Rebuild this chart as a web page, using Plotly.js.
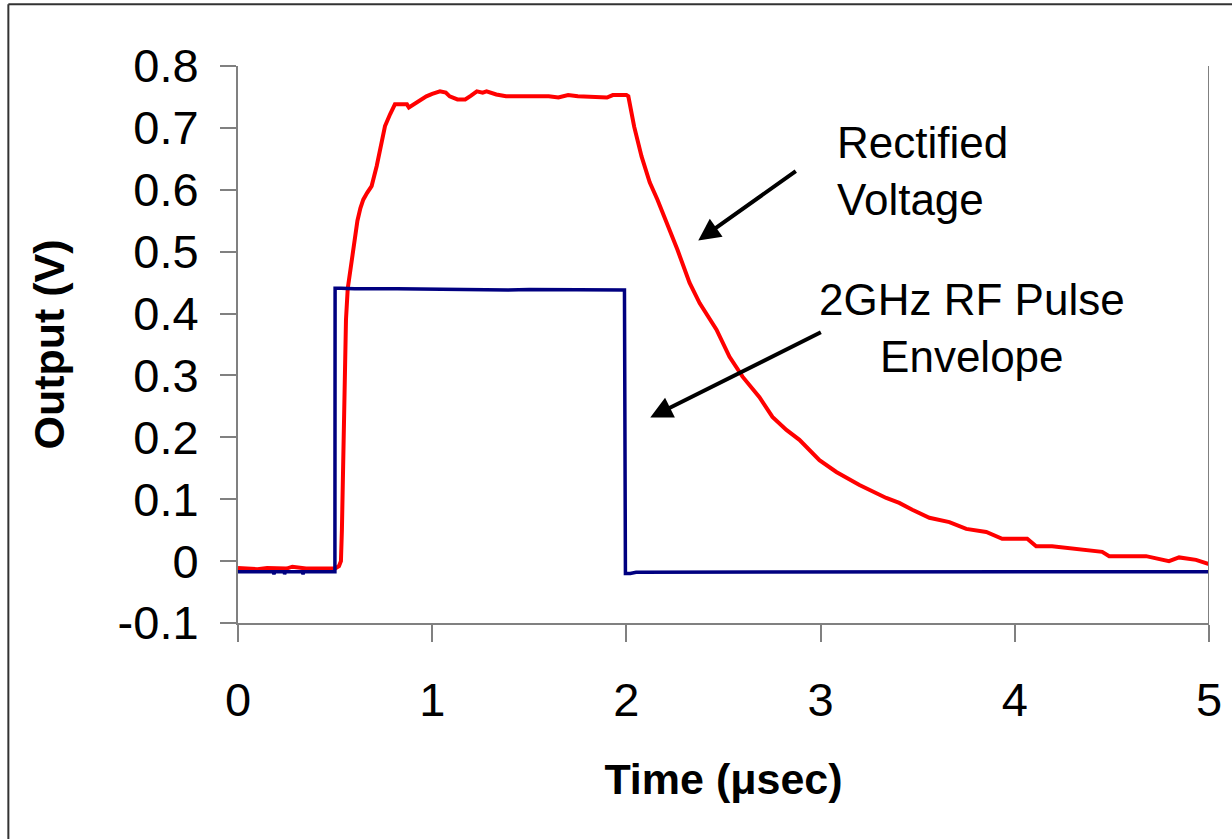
<!DOCTYPE html>
<html>
<head>
<meta charset="utf-8">
<script src="https://cdn.plot.ly/plotly-3.0.1.min.js"></script>
<style>
html,body{margin:0;padding:0;background:#fff;}
#chart{width:1232px;height:839px;}
</style>
</head>
<body>
<div id="chart"></div>
<script>
// Rectified voltage (red)
var redTime = [0, 0.05, 0.1, 0.15, 0.2, 0.25, 0.28, 0.3, 0.35, 0.4, 0.45, 0.5, 0.52, 0.53, 0.535, 0.54, 0.545, 0.55, 0.556, 0.565, 0.586, 0.6, 0.615, 0.63, 0.645, 0.665, 0.688, 0.714, 0.735, 0.757, 0.783, 0.808, 0.85, 0.87, 0.88, 0.9, 0.93, 0.97, 1.0, 1.04, 1.07, 1.09, 1.13, 1.17, 1.2, 1.23, 1.26, 1.28, 1.33, 1.38, 1.5, 1.6, 1.65, 1.7, 1.75, 1.85, 1.9, 1.93, 2.0, 2.01, 2.04, 2.078, 2.12, 2.16, 2.222, 2.263, 2.325, 2.377, 2.464, 2.531, 2.598, 2.685, 2.752, 2.824, 2.891, 2.994, 3.081, 3.2, 3.338, 3.405, 3.472, 3.56, 3.663, 3.75, 3.853, 3.935, 4.064, 4.11, 4.192, 4.295, 4.45, 4.486, 4.676, 4.794, 4.846, 4.933, 5.0];
var redVolt = [-0.011, -0.012, -0.013, -0.011, -0.011, -0.012, -0.009, -0.01, -0.012, -0.012, -0.012, -0.012, -0.008, 0.0, 0.05, 0.15, 0.25, 0.33, 0.39, 0.44, 0.49, 0.52, 0.55, 0.57, 0.584, 0.595, 0.606, 0.638, 0.67, 0.703, 0.722, 0.738, 0.738, 0.738, 0.733, 0.737, 0.742, 0.751, 0.755, 0.759, 0.757, 0.751, 0.746, 0.746, 0.752, 0.759, 0.757, 0.759, 0.754, 0.751, 0.751, 0.751, 0.749, 0.753, 0.751, 0.749, 0.749, 0.753, 0.753, 0.751, 0.702, 0.654, 0.612, 0.584, 0.536, 0.503, 0.45, 0.417, 0.374, 0.33, 0.298, 0.265, 0.233, 0.212, 0.196, 0.163, 0.144, 0.123, 0.102, 0.094, 0.083, 0.07, 0.063, 0.052, 0.047, 0.036, 0.036, 0.024, 0.024, 0.021, 0.015, 0.008, 0.008, 0.0, 0.006, 0.002, -0.005];

// 2GHz RF pulse envelope (navy)
var blueTime = [0, 0.18, 0.185, 0.19, 0.237, 0.24, 0.245, 0.33, 0.335, 0.34, 0.499, 0.5, 0.53, 0.6, 0.82, 1.0, 1.39, 1.5, 1.85, 1.97, 1.99, 1.995, 2.02, 2.05, 3.0, 4.0, 5.0];
var blueVolt = [-0.017, -0.017, -0.021, -0.017, -0.017, -0.021, -0.017, -0.017, -0.021, -0.017, -0.017, 0.441, 0.441, 0.44, 0.44, 0.439, 0.438, 0.439, 0.438, 0.438, 0.438, -0.02, -0.02, -0.018, -0.018, -0.018, -0.017];

var xTicks = [0, 1, 2, 3, 4, 5];
var yTicks = [-0.1, 0, 0.1, 0.2, 0.3, 0.4, 0.5, 0.6, 0.7, 0.8];
var yTickText = ['-0.1', '0', '0.1', '0.2', '0.3', '0.4', '0.5', '0.6', '0.7', '0.8'];

var FONT = 'Liberation Sans, Arial, sans-serif';

var traces = [
  {x: redTime, y: redVolt, mode: 'lines', line: {color: '#FF0000', width: 4}, name: 'Rectified Voltage'},
  {x: blueTime, y: blueVolt, mode: 'lines', line: {color: '#000080', width: 3.5}, name: '2GHz RF Pulse Envelope'}
];

var layout = {
  width: 1232, height: 839,
  margin: {l: 238, r: 23, t: 66, b: 216},
  paper_bgcolor: '#fff', plot_bgcolor: '#fff',
  showlegend: false,
  font: {family: FONT, color: '#000', size: 46},
  xaxis: {
    range: [0, 5], tickvals: xTicks, ticktext: xTicks.map(String),
    showgrid: false, zeroline: false, showline: true, linecolor: '#808080', linewidth: 2,
    ticks: 'outside', ticklen: 17, tickwidth: 2, tickcolor: '#808080',
    tickfont: {family: FONT, size: 47, color: '#000'}, ticklabelstandoff: 18,
    title: {text: '<b>Time (μsec)</b>', font: {family: FONT, size: 43, color: '#000'}, standoff: 38},
    automargin: false
  },
  yaxis: {
    range: [-0.1, 0.8], tickvals: yTicks, ticktext: yTickText,
    showgrid: false, zeroline: false, showline: true, linecolor: '#808080', linewidth: 2,
    ticks: 'outside', ticklen: 16, tickwidth: 2, tickcolor: '#808080',
    tickfont: {family: FONT, size: 47, color: '#000'}, ticklabelstandoff: 12,
    title: {text: '<b>Output (V)</b>', font: {family: FONT, size: 43, color: '#000'}, standoff: 40},
    automargin: false
  },
  shapes: [
    {type: 'line', xref: 'x', yref: 'paper', x0: 5, x1: 5, y0: 0, y1: 1, line: {color: '#808080', width: 2}},
    {type: 'line', xref: 'paper', yref: 'paper', x0: -0.2365, x1: 1.1, y0: 1.111, y1: 1.111, line: {color: '#333', width: 2}},
    {type: 'line', xref: 'paper', yref: 'paper', x0: -0.2365, x1: -0.2365, y0: 1.111, y1: -0.5, line: {color: '#333', width: 2}}
  ],
  annotations: [
    {x: 3.074, y: 0.630, xref: 'x', yref: 'y', text: 'Rectified<br>Voltage', showarrow: false,
     xanchor: 'left', yanchor: 'middle', align: 'left', font: {family: FONT, size: 44, color: '#000'}},
    {x: 3.78, y: 0.377, xref: 'x', yref: 'y', text: '2GHz RF Pulse<br>Envelope', showarrow: false,
     xanchor: 'center', yanchor: 'middle', align: 'center', font: {family: FONT, size: 44, color: '#000'}},
    {x: 2.37, y: 0.518, ax: 2.88, ay: 0.632, xref: 'x', yref: 'y', axref: 'x', ayref: 'y', text: '',
     showarrow: true, arrowhead: 2, arrowsize: 1.1, arrowwidth: 4, arrowcolor: '#000'},
    {x: 2.123, y: 0.232, ax: 3.009, ay: 0.371, xref: 'x', yref: 'y', axref: 'x', ayref: 'y', text: '',
     showarrow: true, arrowhead: 2, arrowsize: 1.1, arrowwidth: 4, arrowcolor: '#000'}
  ]
};

Plotly.newPlot('chart', traces, layout, {staticPlot: true, displayModeBar: false});
</script>
</body>
</html>
